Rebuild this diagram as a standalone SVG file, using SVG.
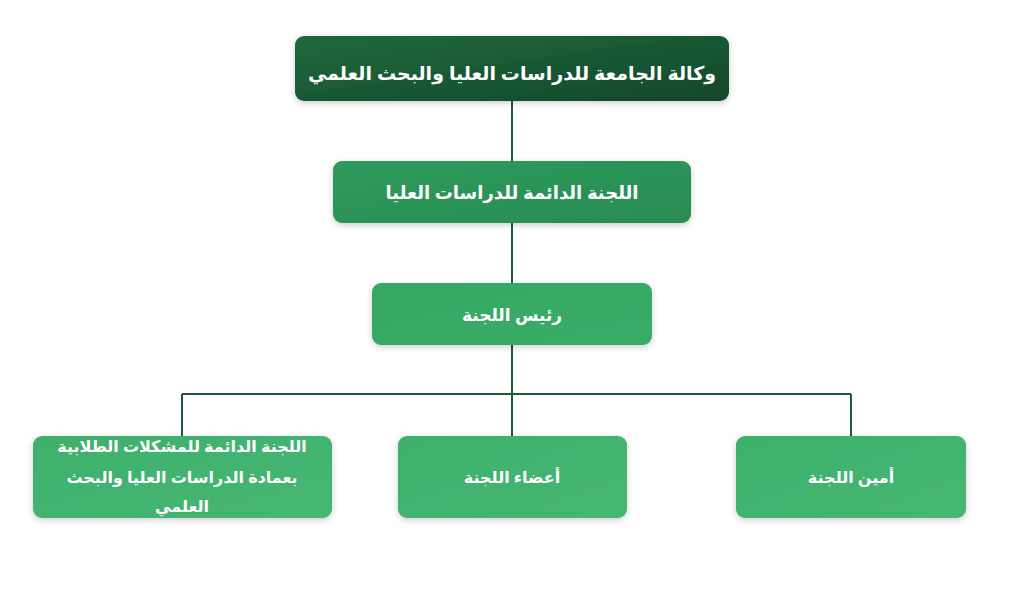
<svg xmlns="http://www.w3.org/2000/svg" width="1024" height="608" viewBox="0 0 1024 608">
<style>
.t{font-family:"Noto Sans","DejaVu Sans",sans-serif;fill:#fff;text-anchor:middle;font-weight:bold}
.c{stroke:#1e5a36;stroke-width:2;fill:none}
</style>
<defs>
<linearGradient id="g0" x1="0" y1="0" x2="1" y2="1"><stop offset="0" stop-color="#1e6a3c"/><stop offset="1" stop-color="#14472a"/></linearGradient>
<linearGradient id="g1" x1="0" y1="0" x2="1" y2="1"><stop offset="0" stop-color="#2e9a5c"/><stop offset="1" stop-color="#2a8c52"/></linearGradient>
<linearGradient id="g2" x1="0" y1="0" x2="1" y2="1"><stop offset="0" stop-color="#34a863"/><stop offset="1" stop-color="#3aac68"/></linearGradient>
<linearGradient id="g3" x1="0" y1="0" x2="1" y2="1"><stop offset="0" stop-color="#3eb16c"/><stop offset="1" stop-color="#46b673"/></linearGradient>
<filter id="sh" x="-10%" y="-20%" width="120%" height="150%"><feDropShadow dx="0" dy="2" stdDeviation="3" flood-opacity="0.2"/></filter>
</defs>
<g id="connectors">
<path class="c" d="M512 101V161M512 223V283M512 345V394M182 394H851M182 394V437M512 394V437M851 394V437"/>
</g>
<g id="n1"><rect x="295" y="36" width="434" height="65" rx="9" fill="url(#g0)" filter="url(#sh)"/><text class="t" x="512" y="80" font-size="19">وكالة الجامعة للدراسات العليا والبحث العلمي</text></g>
<g id="n2"><rect x="333" y="161" width="358" height="62" rx="9" fill="url(#g1)" filter="url(#sh)"/><text class="t" x="512" y="199" font-size="18">اللجنة الدائمة للدراسات العليا</text></g>
<g id="n3"><rect x="372" y="283" width="280" height="62" rx="9" fill="url(#g2)" filter="url(#sh)"/><text class="t" x="512" y="321" font-size="17">رئيس اللجنة</text></g>
<g id="n4"><rect x="33" y="436" width="299" height="82" rx="9" fill="url(#g3)" filter="url(#sh)"/><text class="t" font-size="16"><tspan x="182" y="452">اللجنة الدائمة للمشكلات الطلابية</tspan><tspan x="182" y="483">بعمادة الدراسات العليا والبحث</tspan><tspan x="182" y="512">العلمي</tspan></text></g>
<g id="n5"><rect x="398" y="436" width="229" height="82" rx="9" fill="url(#g3)" filter="url(#sh)"/><text class="t" x="512" y="483" font-size="16">أعضاء اللجنة</text></g>
<g id="n6"><rect x="736" y="436" width="230" height="82" rx="9" fill="url(#g3)" filter="url(#sh)"/><text class="t" x="851" y="483" font-size="16">أمين اللجنة</text></g>
</svg>
